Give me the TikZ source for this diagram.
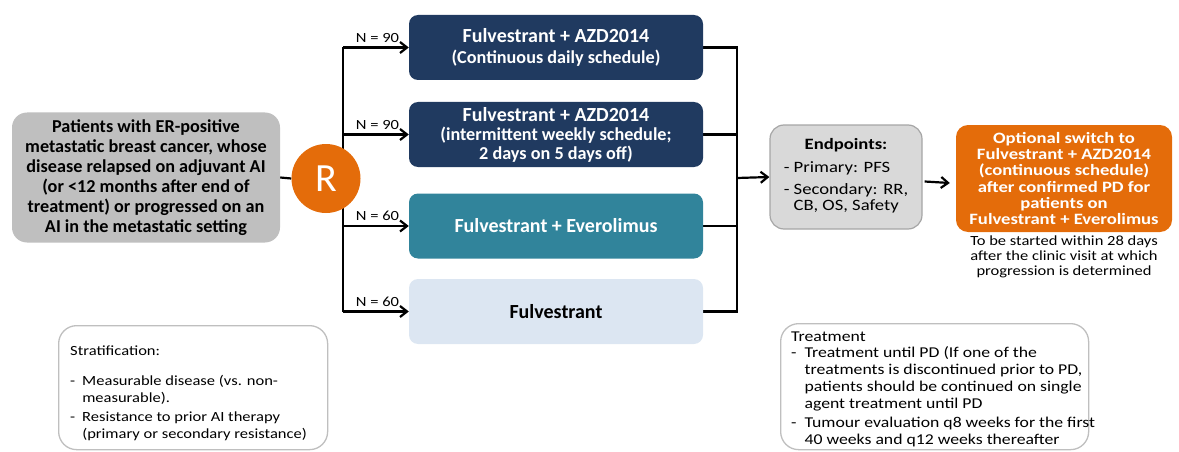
\documentclass[tikz,border=0pt]{standalone}
\usepackage{fontspec}
\setmainfont{Carlito}
\newfontfamily\widefont{Carlito}[FakeStretch=1.18]
\usetikzlibrary{arrows.meta,backgrounds}

\definecolor{navy}{HTML}{203A60}
\definecolor{teal}{HTML}{31849B}
\definecolor{paleblue}{HTML}{DCE6F2}
\definecolor{stonegrey}{HTML}{BFBFBF}
\definecolor{lightgrey}{HTML}{D9D9D9}
\definecolor{edgegrey}{HTML}{A6A6A6}
\definecolor{rorange}{HTML}{E46C0A}

\newcommand{\subline}[1]{{\fontsize{18.2}{19}\selectfont #1}}

\begin{document}
\begin{tikzpicture}[x=1pt,y=-1pt,
      every node/.style = {align=center, inner sep=0pt},
      armbox/.style = {shape=rectangle, rounded corners=9pt,
        minimum width=294pt, minimum height=65pt,
        font=\bfseries\fontsize{20}{21.5}\selectfont},
      notebox/.style = {shape=rectangle, rounded corners=18pt, draw=stonegrey,
        line width=1.3pt, fill=white},
      nlabel/.style = {font=\widefont\fontsize{14}{14}\selectfont,
        anchor=south west},
      conn/.style = {line width=2.2pt, black},
      arrow/.style = {conn, -{Straight Barb[length=7pt,width=11pt]}}]
  \useasboundingbox (0,0) rectangle (1179,452);

  % patients and randomisation
  \node[fill=stonegrey, rounded corners=15pt, minimum width=268pt,
    minimum height=130pt, font=\bfseries\fontsize{18.2}{20}\selectfont]
    (patients) at (146,177.5) {Patients with ER-positive\\
      metastatic breast cancer, whose\\
      disease relapsed on adjuvant AI\\
      (or <12 months after end of\\
      treatment) or progressed on an\\
      AI in the metastatic setting};
  \node[circle, fill=rorange, minimum size=69pt, text=white,
    font=\fontsize{40}{40}\selectfont] (rand) at (326,178.5) {R};
  \coordinate (split) at (343,178.5);

  % treatment arms
  \node[armbox, fill=navy, text=white] (arm1) at (556,47.5)
    {Fulvestrant + AZD2014\\\subline{(Continuous daily schedule)}};
  \node[armbox, fill=navy, text=white,
    font=\bfseries\fontsize{20}{19}\selectfont] (arm2) at (556,134.5)
    {Fulvestrant + AZD2014\\\subline{(intermittent weekly schedule;}\\
     \subline{2 days on 5 days off)}};
  \node[armbox, fill=teal, text=white] (arm3) at (556,226)
    {Fulvestrant + Everolimus};
  \node[armbox, fill=paleblue, text=black] (arm4) at (556,311.5)
    {Fulvestrant};
  \coordinate (join) at (737,178);

  % endpoints and switch
  \node[fill=lightgrey, draw=edgegrey, line width=1.2pt, rounded corners=14pt,
    minimum width=152pt, minimum height=104pt,
    font=\widefont\fontsize{15.8}{16}\selectfont] (endpoints) at (846,177)
    {{\bfseries Endpoints:}\\[8pt]
     \begin{tabular}{@{}l@{}}
       - Primary: PFS\\[6pt]
       - Secondary: RR,\\
       \hphantom{- }CB, OS, Safety
     \end{tabular}};
  \node[fill=rorange, rounded corners=12pt, minimum width=216pt,
    minimum height=107pt, text=white,
    font=\widefont\bfseries\fontsize{15.8}{16.2}\selectfont] (switch)
    at (1064,178.5)
    {Optional switch to\\Fulvestrant + AZD2014\\(continuous schedule)\\
     after confirmed PD for\\patients on\\Fulvestrant + Everolimus};
  \node[font=\widefont\fontsize{14}{15}\selectfont, anchor=north] (timing)
    at (1064,236)
    {To be started within 28 days\\after the clinic visit at which\\
     progression is determined};

  % notes
  \node[notebox, minimum width=269pt, minimum height=124pt, anchor=north west]
    (stratbox) at (58,325) {};
  \node[font=\widefont\fontsize{14}{16.5}\selectfont, anchor=north west,
    align=left] (strattext) at (70,346)
    {Stratification:\\[17pt]
     \begin{tabular}{@{}l@{\hspace{7pt}}l@{}}
       - & Measurable disease (vs. non-\\
         & measurable).\\[3pt]
       - & Resistance to prior AI therapy\\
         & (primary or secondary resistance)
     \end{tabular}};
  \node[notebox, minimum width=308pt, minimum height=126pt, anchor=north west]
    (treatbox) at (780,323) {};
  \node[font=\widefont\fontsize{15}{17}\selectfont, anchor=north west,
    align=left] (treattext) at (791,332)
    {Treatment\\[3pt]
     \begin{tabular}{@{}l@{\hspace{8pt}}l@{}}
       - & Treatment until PD (If one of the\\
         & treatments is discontinued prior to PD,\\
         & patients should be continued on single\\
         & agent treatment until PD\\[2pt]
       - & Tumour evaluation q8 weeks for the first\\
         & 40 weeks and q12 weeks thereafter
     \end{tabular}};

  % connectors
  \begin{scope}[on background layer]
    \draw[conn] (patients.east) -- (rand.west);
    \draw[conn] (split |- arm1.west) -- (split |- arm4.west);
    \draw[arrow] (split |- arm1.west) -- node[nlabel, pos=0.18, yshift=4pt]
      {N = 90} (arm1.west);
    \draw[arrow] (split |- arm2.west) -- node[nlabel, pos=0.18, yshift=4pt]
      {N = 90} (arm2.west);
    \draw[arrow] (split |- arm3.west) -- node[nlabel, pos=0.18, yshift=4pt]
      {N = 60} (arm3.west);
    \draw[arrow] (split |- arm4.west) -- node[nlabel, pos=0.18, yshift=4pt]
      {N = 60} (arm4.west);
    \draw[conn] (arm1.east) -- (join |- arm1.east) -- (join |- arm4.east)
      -- (arm4.east);
    \draw[conn] (arm2.east) -- (join |- arm2.east);
    \draw[conn] (arm3.east) -- (join |- arm3.east);
    \draw[arrow] (join) -- (endpoints.west);
    \draw[arrow] ([shift={(2pt,-4.5pt)}]endpoints.east)
      -- ([shift={(-6pt,-4.5pt)}]switch.west);
  \end{scope}
\end{tikzpicture}
\end{document}
